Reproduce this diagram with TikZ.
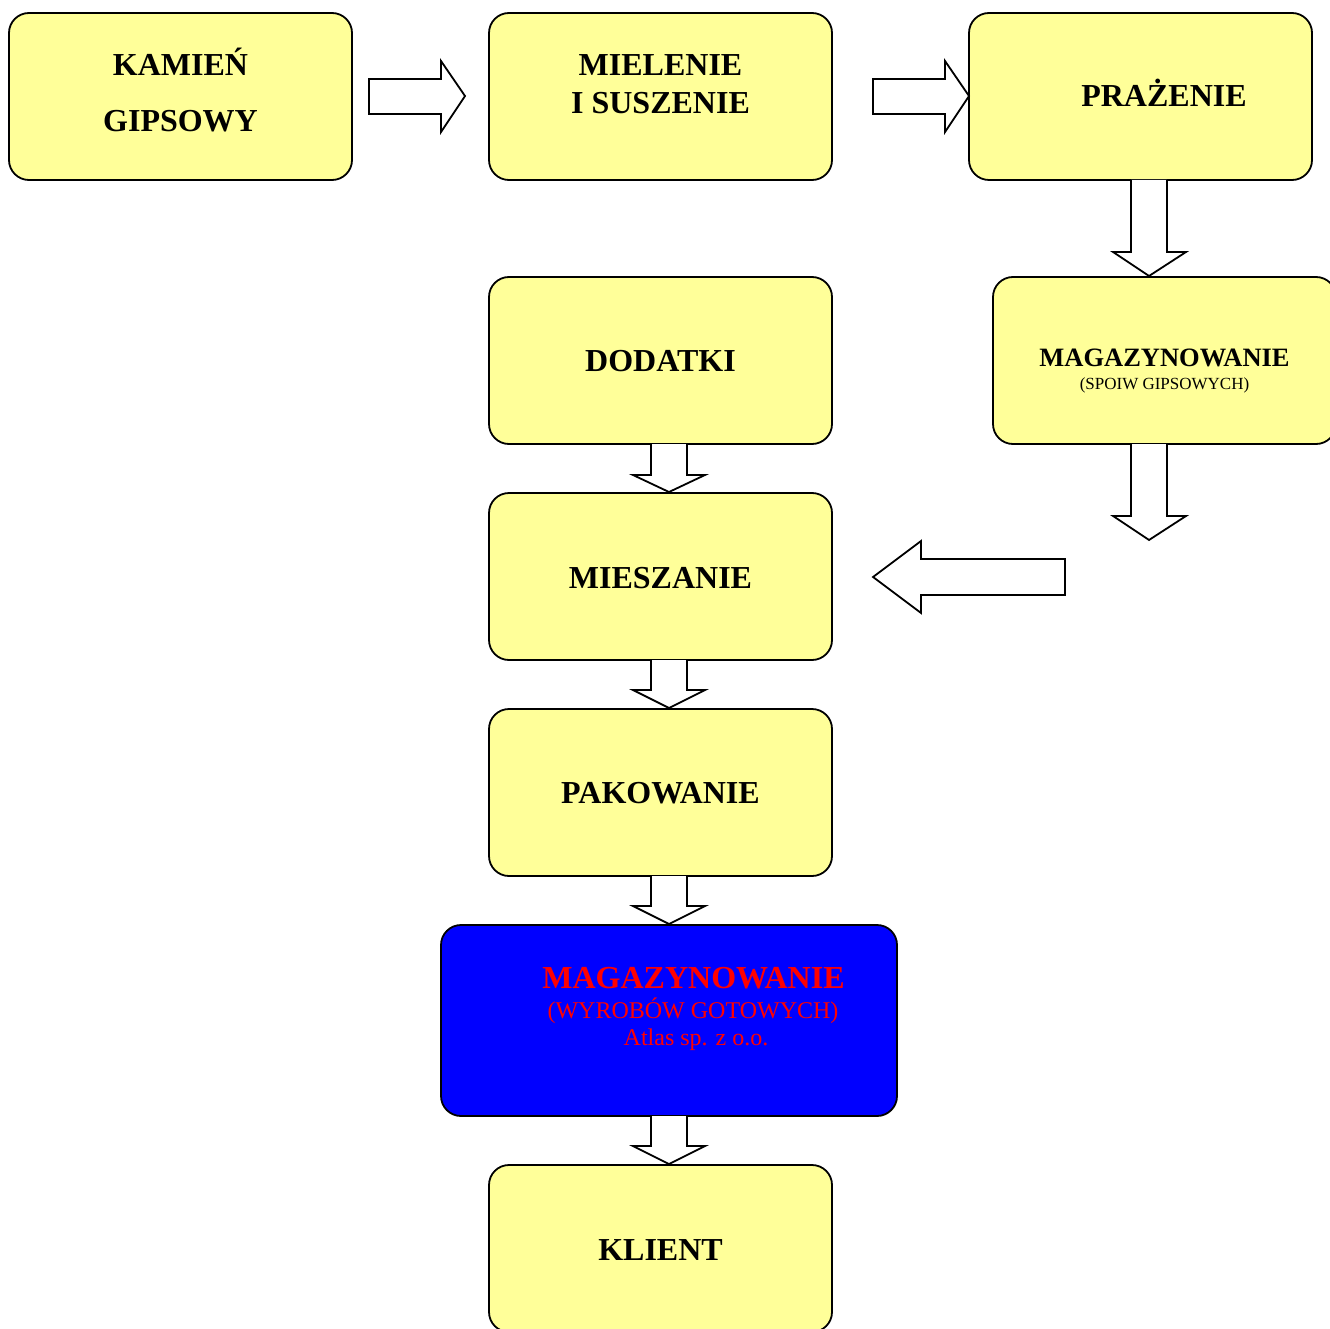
\documentclass[tikz,border=0pt]{standalone}
\usepackage{fontspec}
\setmainfont{Liberation Serif}
\definecolor{boxyellow}{HTML}{FFFF99}
\definecolor{boxblue}{HTML}{0000FF}
\definecolor{txtred}{HTML}{FF0000}
\begin{document}
\begin{tikzpicture}[x=1pt,y=-1pt,
  stagebox/.style={draw=black,line width=1.8pt,fill=boxyellow,rounded corners=20pt,
    minimum width=343pt,minimum height=167pt,inner sep=0pt},
  bigtxt/.style={anchor=base,inner sep=0pt,font=\fontsize{32}{38}\selectfont\bfseries},
  blockarrow/.style={draw=black,line width=1.8pt,fill=white,line join=miter}]
\useasboundingbox (0,0) rectangle (1329,1329);
% boxes
\node[stagebox] (kam) at (180.5,96.5) {};
\node[stagebox] (miel) at (660.5,96.5) {};
\node[stagebox] (praz) at (1140.5,96.5) {};
\node[stagebox] (dod) at (660.5,360.5) {};
\node[stagebox] (magsp) at (1164.5,360.5) {};
\node[stagebox] (mies) at (660.5,576.5) {};
\node[stagebox] (pak) at (660.5,792.5) {};
\node[stagebox,fill=boxblue,minimum width=456pt,minimum height=191pt] (magwyr) at (669,1020.5) {};
\node[stagebox] (kli) at (660.5,1248.5) {};
% texts
\node[bigtxt] (kamA) at (180.5,76) {KAMIEŃ};
\node[bigtxt] (kamB) at (180.5,132) {GIPSOWY};
\node[bigtxt] (mielA) at (660.5,76) {MIELENIE};
\node[bigtxt] (mielB) at (660.5,114) {I SUSZENIE};
\node[bigtxt] (prazT) at (1164,107) {PRAŻENIE};
\node[bigtxt] (dodT) at (660.5,371) {DODATKI};
\node[bigtxt,font=\fontsize{26.5}{30}\selectfont\bfseries] (magspA) at (1164.5,366) {MAGAZYNOWANIE};
\node[anchor=base,inner sep=0pt,font=\fontsize{17}{20}\selectfont] (magspB) at (1164.5,389) {(SPOIW GIPSOWYCH)};
\node[bigtxt] (miesT) at (660.5,588) {MIESZANIE};
\node[bigtxt] (pakT) at (660.5,803) {PAKOWANIE};
\node[bigtxt,text=txtred] (magwyrA) at (693.5,988) {MAGAZYNOWANIE};
\node[anchor=base,inner sep=0pt,text=txtred,font=\fontsize{24}{28}\selectfont] (magwyrB) at (693,1018) {(WYROBÓW GOTOWYCH)};
\node[anchor=base,inner sep=0pt,text=txtred,font=\fontsize{24}{28}\selectfont] (magwyrC) at (696,1045) {Atlas sp. z o.o.};
\node[bigtxt] (kliT) at (660.5,1260) {KLIENT};
% block arrows
\draw[blockarrow] (369,79) -- (441,79) -- (441,61) -- (465,96) -- (441,132) -- (441,114) -- (369,114) -- cycle;
\draw[blockarrow] (873,79) -- (945,79) -- (945,61) -- (969,96) -- (945,132) -- (945,114) -- (873,114) -- cycle;
\draw[blockarrow] (1131,180) -- (1131,252) -- (1113,252) -- (1149,276) -- (1186,252) -- (1167,252) -- (1167,180);
\draw[blockarrow] (651,444) -- (651,475) -- (633,475) -- (669,492) -- (705,475) -- (687,475) -- (687,444);
\draw[blockarrow] (1131,444) -- (1131,516) -- (1113,516) -- (1149,540) -- (1186,516) -- (1167,516) -- (1167,444);
\draw[blockarrow] (1065,559) -- (921,559) -- (921,541) -- (873,577) -- (921,613) -- (921,595) -- (1065,595) -- cycle;
\draw[blockarrow] (651,660) -- (651,690) -- (633,690) -- (669,708) -- (705,690) -- (687,690) -- (687,660);
\draw[blockarrow] (651,876) -- (651,906) -- (633,906) -- (669,924) -- (705,906) -- (687,906) -- (687,876);
\draw[blockarrow] (651,1116) -- (651,1146) -- (633,1146) -- (669,1164) -- (705,1146) -- (687,1146) -- (687,1116);
\end{tikzpicture}
\end{document}
